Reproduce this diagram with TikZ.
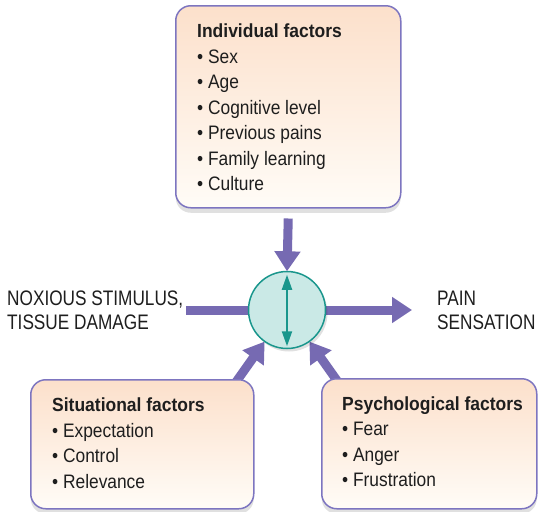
\documentclass[tikz,border=0pt]{standalone}
\usepackage{fontspec}
\setmainfont{Liberation Sans}
\newfontfamily\itemfont[FakeStretch=0.89]{Liberation Sans}
\newfontfamily\titlefont[FakeStretch=0.92]{Liberation Sans}
\newfontfamily\labelfont[FakeStretch=0.82]{Liberation Sans}
\usetikzlibrary{arrows.meta,shadows}
\definecolor{arrowpurple}{RGB}{118,106,178}
\definecolor{boxborder}{RGB}{125,117,192}
\definecolor{boxtop}{RGB}{252,224,203}
\definecolor{boxbottom}{RGB}{255,252,247}
\definecolor{circfill}{RGB}{202,233,230}
\definecolor{circline}{RGB}{25,150,140}
\definecolor{txt}{RGB}{30,30,30}
\tikzset{
  fbox/.style={draw=boxborder, line width=1.5pt, rounded corners=15pt,
    top color=boxtop, bottom color=boxbottom, anchor=north west,
    drop shadow={shadow xshift=0pt, shadow yshift=-5pt, opacity=0.12, fill=black}},
  ttext/.style={anchor=base west, inner sep=0pt, text=txt, font=\titlefont\bfseries\fontsize{19}{23}\selectfont},
  itext/.style={anchor=base west, inner sep=0pt, text=txt, font=\itemfont\fontsize{19.5}{23}\selectfont},
  ltext/.style={anchor=base west, inner sep=0pt, text=txt, font=\labelfont\fontsize{21}{25}\selectfont},
  bigarrow/.style={draw=arrowpurple, line width=9pt,
    -{Triangle[length=20pt,width=25pt]}, arrowpurple},
  bigline/.style={draw=arrowpurple, line width=9pt},
}
\begin{document}
\begin{tikzpicture}[x=1pt,y=-1pt]
\useasboundingbox (0,0) rectangle (539,512);
\fill[white] (0,0) rectangle (539,512);

% coordinates for free ends
\coordinate (tailL) at (236,382);
\coordinate (tailR) at (338,382);
\coordinate (ls) at (186,310);
\coordinate (re) at (412,310);

% central circle (placed first for names, drawn on top later)
\node[circle, minimum size=77pt, inner sep=0pt] (c) at (287,310) {};

% boxes
\node[fbox, minimum width=225pt, minimum height=202pt] (indbox) at (175,5) {};

% connectors
\draw[bigarrow] ([yshift=-10pt]indbox.south) -- (c.north);
\draw[bigline] (ls) -- (c.west);
\draw[bigarrow] (c.east) -- (re);
\draw[bigarrow] (tailL) -- (c);
\draw[bigarrow] (tailR) -- (c);

\node[fbox, minimum width=223pt, minimum height=129pt] (sitbox) at (30,379) {};
\node[fbox, minimum width=215pt, minimum height=130pt] (psybox) at (321,378) {};

% circle drawn on top
\node[circle, draw=circline, fill=circfill, line width=1.5pt, minimum size=77pt, inner sep=0pt,
  drop shadow={shadow xshift=2pt, shadow yshift=-3pt, opacity=0.12, fill=black}] (cc) at (c) {};
\draw[circline, line width=2pt, {Triangle[length=15pt,width=10pt]}-{Triangle[length=15pt,width=10pt]}]
  ([yshift=-4pt]cc.north) -- ([yshift=3pt]cc.south);

% texts: individual
\node[ttext] (indT) at (197,37.5) {Individual factors};
\foreach \t [count=\i] in {Sex,Age,Cognitive level,Previous pains,Family learning,Culture}
  \node[itext] (ind\i) at (197,37.5+25.5*\i) {• \t};

% situational
\node[ttext] (sitT) at (52,411.5) {Situational factors};
\foreach \t [count=\i] in {Expectation,Control,Relevance}
  \node[itext] (sit\i) at (52,411.5+25.5*\i) {• \t};

% psychological
\node[ttext] (psyT) at (342,410) {Psychological factors};
\foreach \t [count=\i] in {Fear,Anger,Frustration}
  \node[itext] (psy\i) at (342,410+25.5*\i) {• \t};

% side labels
\node[ltext] (nox1) at (7,305) {NOXIOUS STIMULUS,};
\node[ltext] (nox2) at (7,329) {TISSUE DAMAGE};
\node[ltext] (pain1) at (437,305) {PAIN};
\node[ltext] (pain2) at (437,329) {SENSATION};
\end{tikzpicture}
\end{document}
